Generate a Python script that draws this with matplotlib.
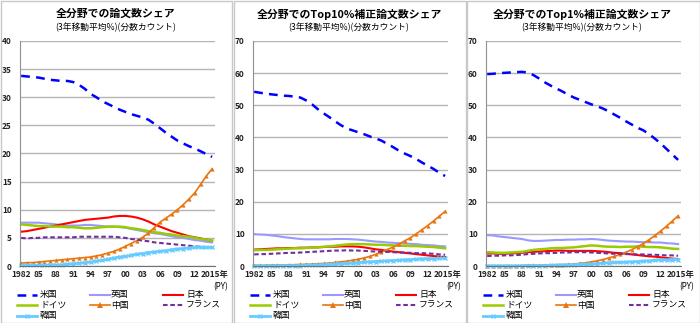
import matplotlib
matplotlib.use("Agg")
import matplotlib.pyplot as plt
from matplotlib.lines import Line2D
from matplotlib.patches import Rectangle

plt.rcParams['font.family'] = ['Noto Sans CJK JP', 'DejaVu Sans']

years = list(range(1982, 2016))
xtick_years = [1982, 1985, 1988, 1991, 1994, 1997, 2000, 2003, 2006, 2009, 2012, 2015]
xtick_labels = ["1982", "85", "88", "91", "94", "97", "00", "03", "06", "09", "12", "2015年"]

titles = ["全分野での論文数シェア", "全分野でのTop10%補正論文数シェア", "全分野でのTop1%補正論文数シェア"]
subtitle = "(3年移動平均%)(分数カウント)"
countries = ["米国", "英国", "日本", "ドイツ", "中国", "フランス", "韓国"]

# Panel 1: all papers
p_us = [33.8,33.7,33.6,33.5,33.3,33.1,33.0,32.9,32.9,32.7,32.2,31.5,30.6,30.0,29.3,28.8,28.3,27.8,27.4,27.0,26.7,26.4,26.0,25.3,24.5,23.7,23.0,22.3,21.8,21.3,20.9,20.4,19.9,19.4]
p_uk = [7.7,7.7,7.7,7.7,7.6,7.5,7.4,7.3,7.2,7.2,7.2,7.3,7.3,7.2,7.1,7.0,7.0,6.9,6.8,6.6,6.4,6.2,6.0,5.8,5.7,5.5,5.3,5.1,5.0,4.8,4.6,4.5,4.3,4.2]
p_jp = [6.1,6.2,6.4,6.6,6.8,7.0,7.2,7.4,7.6,7.8,8.0,8.2,8.3,8.4,8.5,8.6,8.8,8.9,8.9,8.8,8.6,8.3,7.9,7.4,7.0,6.6,6.2,5.9,5.6,5.3,5.1,4.9,4.7,4.5]
p_de = [7.4,7.3,7.2,7.1,7.1,7.0,7.0,7.0,6.9,6.9,6.8,6.7,6.7,6.8,6.9,7.0,7.0,7.0,6.9,6.7,6.6,6.4,6.2,6.0,5.9,5.7,5.6,5.4,5.3,5.2,5.0,4.8,4.7,4.5]
p_cn = [0.5,0.6,0.6,0.7,0.8,0.9,1.0,1.1,1.2,1.3,1.4,1.5,1.6,1.8,2.0,2.3,2.6,3.0,3.5,4.0,4.5,5.1,5.9,6.8,7.8,8.5,9.2,10.0,10.9,11.9,13.0,14.5,16.0,17.3]
p_fr = [5.0,4.9,5.0,5.0,5.1,5.1,5.1,5.1,5.1,5.1,5.2,5.2,5.2,5.2,5.2,5.2,5.2,5.1,5.0,4.8,4.7,4.5,4.4,4.2,4.1,4.0,3.9,3.8,3.7,3.6,3.5,3.4,3.3,3.3]
p_kr = [0.1,0.1,0.1,0.1,0.1,0.2,0.2,0.2,0.3,0.4,0.5,0.6,0.7,0.9,1.0,1.2,1.4,1.6,1.7,1.9,2.1,2.2,2.4,2.5,2.6,2.7,2.9,3.0,3.1,3.2,3.3,3.3,3.3,3.3]

# Panel 2: Top10%
t10_us = [54.2,53.9,53.6,53.4,53.2,53.0,52.9,52.7,52.4,51.5,50.3,48.8,47.5,46.3,45.0,43.8,42.8,42.2,41.6,41.0,40.3,39.7,39.0,38.0,37.0,35.9,35.0,34.2,33.3,32.2,31.2,30.2,29.0,28.0]
t10_uk = [9.9,9.8,9.7,9.5,9.3,9.0,8.8,8.6,8.4,8.3,8.3,8.3,8.3,8.3,8.4,8.4,8.4,8.3,8.2,8.0,7.8,7.6,7.5,7.3,7.2,7.1,7.0,6.9,6.8,6.6,6.5,6.4,6.2,6.1]
t10_jp = [5.1,5.2,5.3,5.4,5.5,5.5,5.6,5.6,5.7,5.7,5.8,5.8,5.9,6.0,6.0,6.1,6.1,6.1,6.0,5.8,5.5,5.2,5.0,4.7,4.5,4.3,4.1,3.9,3.7,3.5,3.3,3.1,2.9,2.8]
t10_de = [4.9,5.0,5.0,5.1,5.2,5.3,5.4,5.5,5.5,5.6,5.7,5.8,6.0,6.1,6.3,6.5,6.7,6.8,6.8,6.8,6.7,6.6,6.6,6.5,6.4,6.3,6.3,6.2,6.2,6.1,6.0,5.9,5.7,5.5]
t10_cn = [0.2,0.2,0.2,0.3,0.3,0.3,0.4,0.4,0.5,0.5,0.6,0.7,0.8,0.9,1.1,1.3,1.5,1.8,2.1,2.5,3.0,3.6,4.3,5.1,5.9,6.8,7.8,8.8,10.0,11.3,12.6,14.0,15.5,17.0]
t10_fr = [3.6,3.7,3.7,3.8,3.9,4.0,4.1,4.1,4.2,4.3,4.4,4.5,4.6,4.7,4.8,4.8,4.9,4.8,4.8,4.7,4.6,4.5,4.4,4.4,4.3,4.2,4.2,4.1,4.0,4.0,3.9,3.8,3.6,3.5]
t10_kr = [0.0,0.0,0.0,0.0,0.0,0.1,0.1,0.1,0.1,0.2,0.2,0.3,0.4,0.5,0.6,0.7,0.8,0.9,1.0,1.2,1.3,1.4,1.5,1.6,1.7,1.8,1.9,2.0,2.1,2.2,2.3,2.3,2.4,2.4]

# Panel 3: Top1%
t1_us = [59.7,59.8,60.0,60.1,60.2,60.3,60.4,60.2,59.4,58.3,57.1,56.1,55.2,54.3,53.3,52.4,51.7,51.0,50.3,49.7,49.0,48.1,47.1,46.1,45.0,44.0,43.0,42.2,41.0,39.6,38.1,36.4,34.7,33.0]
t1_uk = [9.6,9.5,9.2,9.0,8.8,8.6,8.4,8.0,7.8,7.8,7.9,8.0,8.1,8.1,8.2,8.2,8.3,8.3,8.4,8.3,8.1,7.9,7.8,7.7,7.6,7.6,7.5,7.4,7.4,7.3,7.3,7.1,7.0,6.8]
t1_jp = [3.9,3.9,3.8,3.8,3.9,4.0,4.1,4.3,4.4,4.5,4.6,4.7,4.8,4.8,4.7,4.7,4.7,4.7,4.7,4.6,4.5,4.3,4.1,4.0,3.8,3.6,3.4,3.2,3.0,2.9,2.7,2.5,2.3,2.2]
t1_de = [4.3,4.2,4.1,4.1,4.2,4.3,4.4,4.7,5.0,5.2,5.3,5.5,5.6,5.6,5.7,5.8,6.0,6.2,6.4,6.3,6.1,6.0,6.0,5.9,6.0,6.0,6.1,6.0,5.9,5.9,5.8,5.6,5.4,5.3]
t1_cn = [0.1,0.1,0.1,0.1,0.1,0.1,0.1,0.2,0.2,0.2,0.3,0.3,0.4,0.4,0.5,0.6,0.8,1.0,1.3,1.6,2.0,2.5,3.0,3.6,4.3,5.1,6.0,7.0,8.2,9.5,10.9,12.4,14.0,15.6]
t1_fr = [3.1,3.2,3.2,3.3,3.3,3.4,3.5,3.7,3.8,3.9,4.0,4.0,4.1,4.2,4.2,4.3,4.3,4.3,4.2,4.1,4.0,3.9,3.8,3.8,3.7,3.7,3.6,3.6,3.5,3.5,3.4,3.3,3.3,3.2]
t1_kr = [0.0,0.0,0.0,0.0,0.0,0.0,0.1,0.1,0.1,0.1,0.1,0.2,0.2,0.3,0.3,0.4,0.5,0.5,0.6,0.7,0.9,1.0,1.1,1.1,1.2,1.3,1.4,1.5,1.6,1.8,1.9,1.9,2.0,2.0]

panels = [
    [p_us, p_uk, p_jp, p_de, p_cn, p_fr, p_kr],
    [t10_us, t10_uk, t10_jp, t10_de, t10_cn, t10_fr, t10_kr],
    [t1_us, t1_uk, t1_jp, t1_de, t1_cn, t1_fr, t1_kr],
]
ylims = [(0, 40, 5), (0, 70, 10), (0, 70, 10)]

styles = [
    dict(color='#0000FF', lw=1.8, ls=(0, (3.5, 2.5))),
    dict(color='#9999FF', lw=1.5, ls='-'),
    dict(color='#FF0000', lw=1.5, ls='-'),
    dict(color='#99CC00', lw=1.8, ls='-'),
    dict(color='#E8750E', lw=1.2, ls='-', marker='^', ms=3, markeredgewidth=0),
    dict(color='#7030A0', lw=1.5, ls=(0, (2.2, 1.3))),
    dict(color='#66CCFF', lw=2.0, ls='-', marker='x', ms=2.5, markeredgewidth=1),
]

W, H = 700, 323
fig = plt.figure(figsize=(W/100, H/100), dpi=100)

def fx(px): return px / W
def fy(py): return 1 - py / H

panel_x0 = [0, 233, 466]
panel_w = [232, 232, 233]

for i in range(3):
    x0 = panel_x0[i]
    fig.patches.append(Rectangle((fx(x0 + 0.5), fy(322.5)), fx(panel_w[i]), 321.5 / H,
                                 transform=fig.transFigure, fill=False,
                                 edgecolor='#C8C8C8', lw=1))
    left, right, top, bottom = x0 + 20, x0 + 215, 41, 266
    ax = fig.add_axes([fx(left), fy(bottom), fx(right - left), (bottom - top) / H])
    ymin, ymax, ystep = ylims[i]
    ax.set_ylim(ymin, ymax)
    ax.set_xlim(1981.8, 2015.5)
    ax.set_yticks(range(ymin, ymax + 1, ystep))
    ax.yaxis.grid(True, color='#B4B4B4', lw=1)
    ax.set_axisbelow(True)
    ax.set_xticks(xtick_years)
    ax.set_xticklabels(xtick_labels[:-1] + [""])
    for s in ['top', 'right']:
        ax.spines[s].set_visible(False)
    ax.spines['left'].set_color('#909090')
    ax.spines['bottom'].set_color('#707070')
    ax.tick_params(axis='both', length=0, labelsize=6.0, colors='#222222', pad=3)
    ax.tick_params(axis='y', pad=6)
    for t in ax.get_yticklabels():
        t.set_fontweight('bold')
    for t in ax.get_xticklabels():
        t.set_fontweight('bold')
    ax.annotate(xtick_labels[-1], xy=(1, 0), xycoords='axes fraction',
                xytext=(-14, -4.2), textcoords='offset pixels', ha='left', va='top',
                fontsize=6.0, fontweight='bold', color='#222222', annotation_clip=False)
    ax.set_facecolor('white')
    for series, st in zip(panels[i], styles):
        ax.plot(years, series, **st, clip_on=False)

    cx = x0 + 116
    fig.text(fx(cx), fy(14), titles[i], ha='center', va='center', fontsize=7.8, fontweight='bold')
    fig.text(fx(cx), fy(27), subtitle, ha='center', va='center', fontsize=6.3)
    fig.text(fx(x0 + 228), fy(287), "(PY)", ha='right', va='center', fontsize=5.8)

    # legend
    rows = [294.7, 305.3, 315.5]
    hx = [(17, 37), (90, 110), (163, 183)]
    tx = [40, 111, 186]
    order = [(0, 0), (0, 1), (0, 2), (1, 0), (1, 1), (1, 2), (2, 0)]
    for k, (r, c) in enumerate(order):
        st = dict(styles[k])
        st.pop('ls')
        ls = styles[k]['ls']
        h0, h1 = hx[c]
        xs = [fx(x0 + h0), fx(x0 + (h0 + h1) / 2), fx(x0 + h1)]
        mk = st.pop('marker', None)
        ms = st.pop('ms', None)
        mew = st.pop('markeredgewidth', None)
        line = Line2D(xs, [fy(rows[r])] * 3, transform=fig.transFigure, ls=ls, **st)
        if mk:
            line.set_marker(mk)
            line.set_markersize(ms + 1)
            line.set_markeredgewidth(mew if mew else 0)
            line.set_markevery([1])
        fig.add_artist(line)
        fig.text(fx(x0 + tx[c]), fy(rows[r]), countries[k], ha='left', va='center', fontsize=6.3)

fig.savefig("out.png", dpi=100)
